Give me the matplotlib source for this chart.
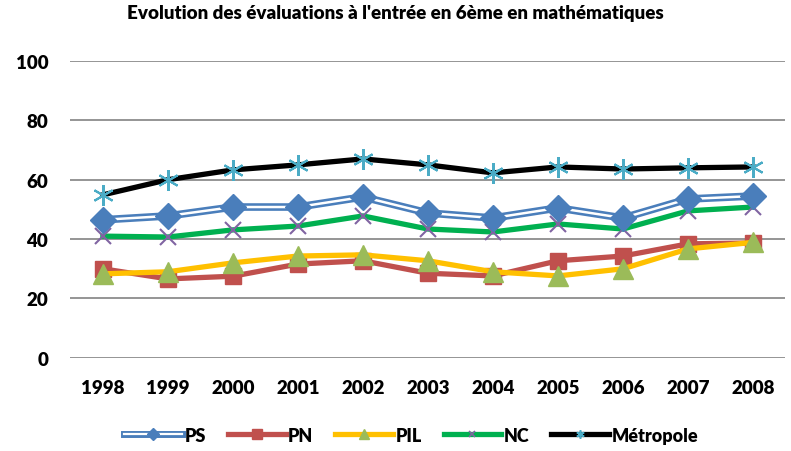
import matplotlib.pyplot as plt
from matplotlib.lines import Line2D
from matplotlib.legend_handler import HandlerTuple

plt.rcParams['font.family'] = ['Lato', 'DejaVu Sans']
plt.rcParams['font.weight'] = 'heavy'

annees = ["1998", "1999", "2000", "2001", "2002", "2003", "2004", "2005", "2006", "2007", "2008"]
ps = [46.5, 47.8, 50.8, 50.8, 54.2, 48.8, 47.1, 50.5, 47.1, 53.5, 54.5]
pn = [30.0, 26.6, 27.5, 31.6, 32.7, 28.5, 27.6, 32.7, 34.3, 38.4, 38.7]
pil = [28.3, 29.0, 32.0, 34.3, 34.7, 32.7, 29.0, 27.6, 30.0, 36.7, 38.9]
nc = [41.0, 40.7, 43.1, 44.4, 47.8, 43.4, 42.4, 45.1, 43.4, 49.5, 50.8]
metropole = [54.9, 60.0, 63.3, 65.0, 67.0, 65.0, 62.3, 64.3, 63.6, 64.0, 64.3]

x = list(range(len(annees)))

fig = plt.figure(figsize=(7.91, 4.52), dpi=100)
ax = fig.add_axes([0.089, 0.206, 0.904, 0.657])

bleu = "#4a7ebb"
rouge = "#c0504d"
jaune = "#ffc000"
vert = "#00b050"
violet = "#8064a2"
cyan = "#4bacc6"
olive = "#9bbb59"

# PS : double trait bleu
ax.plot(x, ps, color=bleu, lw=5.5, zorder=3)
ax.plot(x, ps, color="white", lw=1.8, zorder=3.1)
ax.plot(x, ps, ls="none", marker="D", ms=13, color=bleu, zorder=3.2)

ax.plot(x, pn, color=rouge, lw=3.8, marker="s", ms=12, zorder=3)
ax.plot(x, pil, color=jaune, lw=3.8, zorder=3.3)
ax.plot(x, pil, ls="none", marker="^", ms=14, color=olive, zorder=3.4)
ax.plot(x, nc, color=vert, lw=3.8, zorder=3)
ax.plot(x, nc, ls="none", marker="x", ms=12, mew=1.5, color=violet, zorder=3.05)
ax.plot(x, metropole, color="black", lw=3.8, zorder=3)
ax.plot(x, metropole, ls="none", marker=(6, 2, 0), ms=15, mew=1.5, color=cyan, zorder=3.1)

ax.set_xlim(-0.5, len(annees) - 0.5)
ax.set_ylim(0, 100)
ax.set_yticks(range(0, 101, 20))
ax.set_xticks(x)
ax.set_xticklabels(annees)
ax.grid(axis="y", color="#8c8c8c", lw=1.3)
ax.set_axisbelow(True)
for s in ax.spines.values():
    s.set_visible(False)
ax.tick_params(length=0, labelsize=13.5, pad=15)
ax.tick_params(axis="y", pad=16)
for lab in ax.get_xticklabels() + ax.get_yticklabels():
    lab.set_fontweight("heavy")

fig.suptitle("Evolution des évaluations à l'entrée en 6ème en mathématiques",
             y=0.99, fontsize=13.5, fontweight="heavy")

h_ps = (Line2D([], [], color=bleu, lw=5), Line2D([], [], color="white", lw=1.6),
        Line2D([], [], ls="none", marker="D", ms=6, color=bleu))
h_pn = Line2D([], [], color=rouge, lw=3.8, marker="s", ms=7)
h_pil = (Line2D([], [], color=jaune, lw=3.8),
         Line2D([], [], ls="none", marker="^", ms=7, color=olive))
h_nc = (Line2D([], [], color=vert, lw=3.8),
        Line2D([], [], ls="none", marker="x", ms=5, mew=1.2, color=violet))
h_met = (Line2D([], [], color="black", lw=3.8),
         Line2D([], [], ls="none", marker=(6, 2, 0), ms=6, mew=1.2, color=cyan))

fig.legend([h_ps, h_pn, h_pil, h_nc, h_met], ["PS", "PN", "PIL", "NC", "Métropole"],
           handler_map={tuple: HandlerTuple(ndivide=1)},
           loc="lower center", bbox_to_anchor=(0.52, -0.02), ncol=5, frameon=False,
           handlelength=3.2, handletextpad=0.15, columnspacing=1.2,
           prop={"weight": "heavy", "size": 13})

fig.savefig("out.png", dpi=100)
